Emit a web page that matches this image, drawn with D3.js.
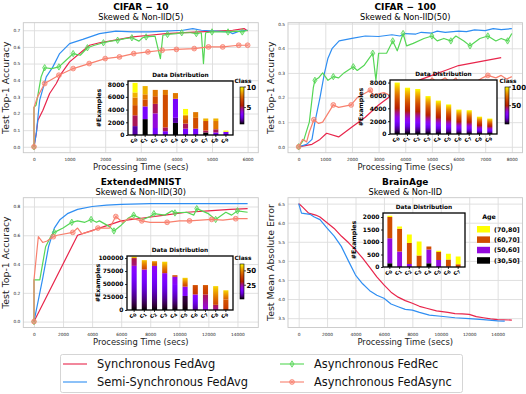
<!DOCTYPE html>
<html>
<head>
<meta charset="utf-8">
<script src="https://cdn.jsdelivr.net/npm/d3@7"></script>
<style>
  body { margin: 0; background: #fff; }
  svg { display: block; font-family: "DejaVu Sans", sans-serif; }
</style>
</head>
<body>
<svg id="fig" width="526" height="394"></svg>
<script>
// ---------- data ----------
const seriesNames = ["Synchronous FedAvg", "Semi-Synchronous FedAvg", "Asynchronous FedRec", "Asynchronous FedAsync"];

// CIFAR-10, accuracy vs time; third value = 1 where a marker sits
const c10Sync = [[0,0],[65,0.08],[110,0.16],[250,0.22],[440,0.32],[626,0.38],[766,0.44],[1000,0.51],[1280,0.56],[1560,0.61],[1840,0.625],[2120,0.635],[2775,0.66],[3240,0.67],[3700,0.68],[4650,0.69],[5580,0.70],[5900,0.71],[6000,0.695]];
const c10Semi = [[0,0],[65,0.08],[160,0.28],[345,0.42],[530,0.48],[720,0.56],[1000,0.62],[1370,0.645],[1840,0.68],[2300,0.695],[2775,0.69],[3240,0.69],[3700,0.695],[4180,0.70],[4460,0.71],[4700,0.70],[5110,0.695],[5490,0.69],[5580,0.68],[5770,0.695],[6000,0.70]];
const c10Rec = [[0,0,1],[0,0.237],[60,0.25],[200,0.42],[300,0.475,1],[500,0.47],[700,0.48,1],[900,0.52],[1100,0.56,1],[1300,0.55],[1500,0.595,1],[1700,0.61],[1950,0.625,1],[2150,0.635],[2350,0.64,1],[2550,0.65],[2750,0.655,1],[2950,0.635],[3050,0.655],[3150,0.66,1],[3400,0.665],[3550,0.53],[3620,0.67],[3750,0.675,1],[4000,0.68],[4150,0.685,1],[4400,0.685],[4560,0.68,1],[4700,0.685],[4760,0.50],[4820,0.685],[5000,0.69,1],[5250,0.69],[5450,0.69,1],[5700,0.695],[5850,0.69,1],[6000,0.70]];
const c10Async = [[0,0,1],[0,0.237],[100,0.30],[300,0.38,1],[700,0.43,1],[1100,0.47,1],[1550,0.50,1],[2000,0.53,1],[2400,0.54,1],[2800,0.56,1],[3200,0.57,1],[3600,0.58,1],[4000,0.585,1],[4500,0.59,1],[4900,0.60,1],[5300,0.60,1],[5750,0.61,1],[6000,0.61,1]];

// CIFAR-100
const c100Sync = [[0,0],[500,0.01],[800,0.03],[1050,0.055],[1500,0.04],[2000,0.08],[2500,0.12],[3000,0.17],[3500,0.21],[4000,0.24],[4500,0.27],[5000,0.29],[5500,0.31],[6000,0.33],[6500,0.34],[7000,0.35],[7600,0.362]];
const c100Semi = [[0,0],[300,0.01],[500,0.03],[610,0.1],[800,0.2],[970,0.3],[1100,0.36],[1260,0.4],[1520,0.43],[2000,0.44],[2500,0.45],[3000,0.448],[3500,0.455],[3800,0.45],[4000,0.46],[4400,0.458],[4600,0.465],[5000,0.462],[5200,0.47],[5500,0.465],[6000,0.47],[6300,0.468],[6600,0.475],[7000,0.472],[7300,0.48],[7600,0.476],[8000,0.48]];
const c100Rec = [[0,0,1],[200,0.03],[400,0.1],[550,0.24],[610,0.27,1],[750,0.28],[900,0.30],[1100,0.27],[1300,0.285,1],[1500,0.28],[1700,0.30],[2050,0.325,1],[2200,0.31],[2450,0.33],[2650,0.36],[2780,0.38,1],[2900,0.27],[3000,0.38],[3300,0.38],[3530,0.43,1],[3700,0.39],[3920,0.46,1],[4050,0.41],[4300,0.42],[4700,0.44],[5000,0.45,1],[5200,0.43],[5450,0.44],[5710,0.43,1],[5900,0.45],[6200,0.43],[6430,0.41,1],[6800,0.44],[7100,0.45,1],[7400,0.43],[7600,0.44],[7840,0.43,1],[8000,0.46]];
const c100Async = [[0,0,1],[150,0.03],[300,0.02],[400,0.06],[570,0.11,1],[750,0.095],[900,0.10],[1300,0.17,1],[1500,0.16],[1970,0.17,1],[2200,0.20],[2690,0.23,1],[2800,0.21],[3200,0.22],[3400,0.21],[3800,0.24],[4000,0.22],[4300,0.25],[4600,0.27],[4800,0.25],[5000,0.28],[5200,0.26],[5500,0.28],[5700,0.26],[5900,0.28],[6050,0.25,1],[6300,0.27],[6600,0.26],[6900,0.28],[7100,0.29,1],[7400,0.28],[7600,0.29],[7800,0.275],[8000,0.285]];

// ExtendedMNIST
const emSync = [[0,0],[3000,0.6],[4500,0.65],[6000,0.70],[7500,0.72],[9000,0.74],[10500,0.76],[12000,0.77],[13500,0.78],[14700,0.785]];
const emSemi = [[0,0],[300,0.15],[600,0.3],[1000,0.52],[1400,0.65],[1800,0.71],[2300,0.75],[3000,0.78],[4000,0.80],[5000,0.81],[6000,0.815],[8000,0.82],[14700,0.82]];
const emRec = [[0,0,1],[0,0.29],[100,0.29],[400,0.29],[800,0.52],[1200,0.6],[1400,0.62,1],[2000,0.65],[2600,0.69,1],[3000,0.70],[3500,0.69],[3930,0.71,1],[4300,0.69],[4500,0.70],[5200,0.66],[5500,0.63,1],[6000,0.67],[6500,0.72],[6860,0.74,1],[7500,0.71],[8000,0.73],[8250,0.75,1],[9000,0.74],[9500,0.77],[9700,0.755,1],[10500,0.76],[11000,0.74],[11200,0.785,1],[12000,0.75],[12500,0.71,1],[13200,0.76],[13600,0.74],[14000,0.77,1],[14700,0.76]];
const emAsync = [[0,0,1],[0,0.29],[300,0.59],[600,0.55],[900,0.56],[1330,0.59,1],[1600,0.60],[2670,0.62,1],[3000,0.65],[3300,0.61],[4000,0.63],[4400,0.65,1],[5200,0.65],[5630,0.73,1],[6100,0.69],[6600,0.72],[7420,0.70,1],[8000,0.69],[9160,0.69,1],[10000,0.70],[10700,0.70,1],[12230,0.71,1],[13000,0.705],[13880,0.715,1],[14700,0.715]];

// BrainAge, mean absolute error
const baSync = [[0,6.5],[100,6.47],[300,6.4],[700,6.25],[1200,6.2],[1500,6.15],[2000,6.0],[2500,5.85],[3000,5.65],[3500,5.48],[4000,5.29],[4500,5.07],[5000,4.83],[5500,4.58],[6000,4.37],[6500,4.18],[7000,4.05],[7500,3.96],[8000,3.89],[8500,3.81],[9000,3.76],[9700,3.69],[10500,3.65],[11000,3.62],[11500,3.61],[12000,3.6],[12500,3.54],[13000,3.51],[13500,3.48],[14000,3.46],[15000,3.45]];
const baSemi = [[0,6.5],[200,6.25],[800,6.22],[1100,6.15],[1500,6.08],[2000,5.86],[2500,5.65],[3000,5.38],[3500,5.0],[4000,4.63],[4500,4.4],[5000,4.22],[5500,4.1],[6000,4.02],[6500,3.87],[7000,3.8],[7500,3.73],[8000,3.71],[8500,3.65],[9200,3.58],[10000,3.55],[11000,3.51],[12000,3.49],[13000,3.46],[14000,3.43],[14500,3.42]];

// axis ticks
const c10XTicks = [0,1000,2000,3000,4000,5000,6000];
const c10YTicks = [0,0.1,0.2,0.3,0.4,0.5,0.6,0.7];
const c100XTicks = [0,1000,2000,3000,4000,5000,6000,7000,8000];
const c100YTicks = [0,0.1,0.2,0.3,0.4,0.5];
const emXTicks = [0,2000,4000,6000,8000,10000,12000,14000];
const emYTicks = [0,0.2,0.4,0.6,0.8];
const baXTicks = [0,2000,4000,6000,8000,10000,12000,14000];
const baYTicks = [3.5,4.0,4.5,5.0,5.5,6.0,6.5];

// inset: samples per client, stacked by class
// CIFAR-10: [class index 0..9, count]
const c10Dist = [
  [[1,1400],[4,1700],[6,1600],[7,1200],[8,800],[9,1500]],
  [[0,2500],[2,2000],[6,1100],[7,800],[8,1300]],
  [[2,1100],[3,2300],[4,1500],[6,1200],[7,1000]],
  [[2,600],[4,600],[6,5100],[7,800]],
  [[0,1900],[1,800],[2,3000],[7,900]],
  [[2,1000],[4,800],[6,700],[7,500],[8,200],[9,900]],
  [[2,1000],[6,1700],[7,900]],
  [[0,400],[4,300],[6,1500],[8,400]],
  [[2,400],[4,500],[7,1300],[8,400]],
  [[2,500],[9,200]]
];
// CIFAR-100: totals per client (classes spread over the whole range)
const c100Totals = [8000, 7200, 7000, 5900, 5200, 4600, 3800, 3700, 2700, 2400];
// ExtendedMNIST: [class range start, class range end (0..1 of 62), count]
const emDist = [
  [[0,0.3,85000],[0.42,0.46,15000],[0.85,1,3000]],
  [[0,0.3,78000],[0.65,0.92,18000]],
  [[0,0.32,85000],[0.65,0.85,9000]],
  [[0,0.3,71000],[0.65,0.95,22000]],
  [[0,0.25,50000],[0.28,0.33,14000],[0.6,0.7,3000]],
  [[0,0.05,27000],[0.25,0.32,18000],[0.62,0.95,17000]],
  [[0.08,0.3,30000],[0.58,0.68,18000]],
  [[0.33,0.45,30000],[0.6,0.7,18000]],
  [[0.4,0.45,10000],[0.65,0.95,36000]],
  [[0.6,0.7,20000],[0.72,0.95,18000]]
];
// BrainAge: counts per age group, order = ageGroups
const ageGroups = ["(30,50]", "(50,60]", "(60,70]", "(70,80]"];
const baDist = [
  [150,1000,850,50],
  [0,620,910,90],
  [0,120,840,340],
  [0,0,460,560],
  [150,550,120,0],
  [0,280,320,50],
  [0,20,280,230],
  [0,0,110,310]
];

// ---------- drawing ----------
const svg = d3.select("#fig");
const defs = svg.append("defs");
const colors = ["#e8254b", "#2f8ef2", "#55d655", "#f8806e"];
const markers = [null, null, "diamond", "circle"];

// matplotlib "gnuplot" colormap
function gnuplot(t) {
  const r = Math.sqrt(t), g = t * t * t, b = Math.max(0, Math.sin(2 * Math.PI * t));
  return d3.rgb(r * 255, g * 255, b * 255).formatHex();
}
let gid = 0;
function gradient(c0, c1) {
  const id = "grad" + (gid++);
  const lg = defs.append("linearGradient").attr("id", id)
    .attr("x1", 0).attr("y1", 1).attr("x2", 0).attr("y2", 0);
  for (let i = 0; i <= 12; i++) {
    lg.append("stop").attr("offset", i / 12).attr("stop-color", gnuplot(c0 + (c1 - c0) * i / 12));
  }
  return `url(#${id})`;
}

function drawMarker(g, cx, cy, color, kind) {
  if (kind === "diamond") {
    g.append("path")
      .attr("d", `M${cx},${cy - 3.2}L${cx + 2},${cy}L${cx},${cy + 3.2}L${cx - 2},${cy}Z`)
      .attr("fill", color).attr("fill-opacity", 0.35)
      .attr("stroke", color).attr("stroke-width", 0.8);
  } else {
    g.append("circle").attr("cx", cx).attr("cy", cy).attr("r", 2.4)
      .attr("fill", color).attr("fill-opacity", 0.4)
      .attr("stroke", color).attr("stroke-width", 0.8);
    g.append("path").attr("d", `M${cx - 1.5},${cy - 1.5}L${cx + 1.5},${cy + 1.5}M${cx - 1.5},${cy + 1.5}L${cx + 1.5},${cy - 1.5}`)
      .attr("stroke", color).attr("stroke-width", 0.6);
  }
}

function drawPanel(p) {
  const b = p.box;
  const x = d3.scaleLinear().domain(p.xDomain).range([b.x0, b.x1]);
  const y = d3.scaleLinear().domain(p.yDomain).range([b.y1, b.y0]);
  const g = svg.append("g");

  // grid
  g.append("g").attr("transform", `translate(0,${b.y1})`)
    .call(d3.axisBottom(x).tickValues(p.xTicks).tickSize(-(b.y1 - b.y0)).tickFormat(""))
    .call(a => a.select(".domain").remove())
    .call(a => a.selectAll("line").attr("stroke", "#dddddd").attr("stroke-width", 0.9));
  g.append("g").attr("transform", `translate(${b.x0},0)`)
    .call(d3.axisLeft(y).tickValues(p.yTicks).tickSize(-(b.x1 - b.x0)).tickFormat(""))
    .call(a => a.select(".domain").remove())
    .call(a => a.selectAll("line").attr("stroke", "#dddddd").attr("stroke-width", 0.9));

  // tick labels
  g.append("g").attr("transform", `translate(0,${b.y1})`)
    .call(d3.axisBottom(x).tickValues(p.xTicks).tickSize(0).tickPadding(5).tickFormat(d3.format("d")))
    .call(a => a.select(".domain").remove())
    .call(a => a.selectAll("text").attr("font-size", 4.3).attr("font-family", "DejaVu Sans").attr("fill", "#222"));
  g.append("g").attr("transform", `translate(${b.x0},0)`)
    .call(d3.axisLeft(y).tickValues(p.yTicks).tickSize(0).tickPadding(3).tickFormat(d3.format(".1f")))
    .call(a => a.select(".domain").remove())
    .call(a => a.selectAll("text").attr("font-size", 4.3).attr("font-family", "DejaVu Sans").attr("fill", "#222"));

  // frame
  g.append("rect").attr("x", b.x0).attr("y", b.y0).attr("width", b.x1 - b.x0).attr("height", b.y1 - b.y0)
    .attr("fill", "none").attr("stroke", "#c8c8c8").attr("stroke-width", 0.9);

  // curves
  const line = d3.line().x(d => x(d[0])).y(d => y(d[1]));
  p.series.forEach((data, i) => {
    g.append("path").datum(data).attr("fill", "none")
      .attr("stroke", colors[i]).attr("stroke-width", 1.2).attr("stroke-linejoin", "round")
      .attr("d", line);
    if (markers[i]) {
      data.filter(d => d[2]).forEach(d => drawMarker(g, x(d[0]), y(d[1]), colors[i], markers[i]));
    }
  });

  // titles and labels
  const cx = (b.x0 + b.x1) / 2;
  g.append("text").attr("x", cx).attr("y", b.y0 - 13.2).attr("text-anchor", "middle")
    .attr("font-size", 9).attr("font-weight", "bold").text(p.title);
  g.append("text").attr("x", cx).attr("y", b.y0 - 3.2).attr("text-anchor", "middle")
    .attr("font-size", 8.2).text(p.sub);
  g.append("text").attr("x", cx).attr("y", b.y1 + 17).attr("text-anchor", "middle")
    .attr("font-size", 8.4).attr("fill", "#222").text("Processing Time (secs)");
  g.append("text").attr("transform", `translate(${b.x0 - 14},${(b.y0 + b.y1) / 2}) rotate(-90)`)
    .attr("text-anchor", "middle").attr("font-size", 9.4).attr("fill", "#222").text(p.ylabel);
}

function drawInset(c) {
  const b = c.box;
  const g = svg.append("g").attr("font-weight", "bold");
  g.append("rect").attr("x", b.x0).attr("y", b.y0).attr("width", b.x1 - b.x0).attr("height", b.y1 - b.y0)
    .attr("fill", "#fff");
  const x = d3.scaleBand().domain(d3.range(c.bars.length)).range([b.x0, b.x1])
    .paddingInner(0.5).paddingOuter(0.45);
  const y = d3.scaleLinear().domain(c.yDomain).range([b.y1, b.y0]);

  c.bars.forEach((segs, i) => {
    let acc = 0;
    segs.forEach(([c0, c1, n]) => {
      if (n <= 0) return;
      g.append("rect").attr("x", x(i)).attr("width", x.bandwidth())
        .attr("y", y(acc + n)).attr("height", y(acc) - y(acc + n))
        .attr("fill", c0 === c1 ? gnuplot(c0) : gradient(c0, c1));
      acc += n;
    });
  });

  // y axis
  g.append("g").attr("transform", `translate(${b.x0},0)`)
    .call(d3.axisLeft(y).tickValues(c.yTicks).tickSize(2).tickPadding(1.5).tickFormat(d3.format("d")))
    .call(a => a.select(".domain").remove())
    .call(a => a.selectAll("line").attr("stroke", "#000").attr("stroke-width", 0.8))
    .call(a => a.selectAll("text").attr("font-size", 6).attr("font-family", "DejaVu Sans").attr("font-weight", "bold").attr("fill", "#000"));
  // x tick labels, rotated
  c.bars.forEach((_, i) => {
    const tx = x(i) + x.bandwidth() / 2;
    g.append("line").attr("x1", tx).attr("x2", tx).attr("y1", b.y1).attr("y2", b.y1 + 2)
      .attr("stroke", "#000").attr("stroke-width", 0.8);
    const t = g.append("text").attr("transform", `translate(${tx + 2},${b.y1 + 4}) rotate(-45)`)
      .attr("text-anchor", "end").attr("font-size", 6.3).text("c");
    t.append("tspan").attr("font-size", 4.5).attr("dy", 1.3).text(i);
  });

  g.append("rect").attr("x", b.x0).attr("y", b.y0).attr("width", b.x1 - b.x0).attr("height", b.y1 - b.y0)
    .attr("fill", "none").attr("stroke", "#000").attr("stroke-width", 1.3);
  g.append("text").attr("x", (b.x0 + b.x1) / 2).attr("y", b.y0 - 4.5).attr("text-anchor", "middle")
    .attr("font-size", 5.8).text("Data Distribution");
  g.append("text").attr("transform", `translate(${b.x0 - 27.5},${(b.y0 + b.y1) / 2}) rotate(-90)`)
    .attr("text-anchor", "middle").attr("font-size", 6.2).text("#Examples");

  if (c.cbar) {
    const cb = c.cbar;
    const cy = d3.scaleLinear().domain(cb.domain).range([cb.y1, cb.y0]);
    g.append("rect").attr("x", cb.x).attr("y", cb.y0).attr("width", 4).attr("height", cb.y1 - cb.y0)
      .attr("fill", gradient(0, 1)).attr("stroke", "#000").attr("stroke-width", 0.6);
    cb.ticks.forEach(v => {
      g.append("line").attr("x1", cb.x + 4).attr("x2", cb.x + 6).attr("y1", cy(v)).attr("y2", cy(v))
        .attr("stroke", "#000").attr("stroke-width", 0.7);
      g.append("text").attr("x", cb.x + 6.5).attr("y", cy(v) + 2.5).attr("font-size", 7).text(v);
    });
    g.append("text").attr("x", cb.x + 3).attr("y", cb.y0 - 4).attr("text-anchor", "middle")
      .attr("font-size", 5.8).text("Class");
  }
  if (c.legend) {
    const L = c.legend;
    g.append("text").attr("x", L.x + 12).attr("y", L.y).attr("text-anchor", "middle")
      .attr("font-size", 6.3).text("Age");
    ageGroups.slice().reverse().forEach((name, k) => {
      const gi = ageGroups.length - 1 - k;
      const ry = L.y + 7 + k * 10.4;
      g.append("rect").attr("x", L.x).attr("y", ry).attr("width", 13).attr("height", 6.5)
        .attr("fill", gnuplot(gi / 3));
      g.append("text").attr("x", L.x + 17).attr("y", ry + 5.6).attr("font-size", 6.3).text(name);
    });
  }
}

const panels = [
  { title: "CIFAR − 10", sub: "Skewed & Non-IID(5)", ylabel: "Test Top-1 Accuracy",
    box: { x0: 23.3, x1: 258.3, y0: 22.7, y1: 152.7 }, xDomain: [-300, 6300], yDomain: [-0.0355, 0.7455],
    xTicks: c10XTicks, yTicks: c10YTicks, series: [c10Sync, c10Semi, c10Rec, c10Async] },
  { title: "CIFAR − 100", sub: "Skewed & Non-IID(50)", ylabel: "Test Top-1 Accuracy",
    box: { x0: 288, x1: 522.5, y0: 22.7, y1: 152.7 }, xDomain: [-400, 8400], yDomain: [-0.024, 0.504],
    xTicks: c100XTicks, yTicks: c100YTicks, series: [c100Sync, c100Semi, c100Rec, c100Async] },
  { title: "ExtendedMNIST", sub: "Skewed & Non-IID(30)", ylabel: "Test Top-1 Accuracy",
    box: { x0: 23.3, x1: 258.3, y0: 197.7, y1: 327.5 }, xDomain: [-735, 15435], yDomain: [-0.041, 0.861],
    xTicks: emXTicks, yTicks: emYTicks, series: [emSync, emSemi, emRec, emAsync] },
  { title: "BrainAge", sub: "Skewed & Non-IID", ylabel: "Test Mean Absolute Error",
    box: { x0: 288, x1: 522.5, y0: 197.7, y1: 327.5 }, xDomain: [-750, 15750], yDomain: [3.255, 6.655],
    xTicks: baXTicks, yTicks: baYTicks, series: [baSync, baSemi] }
];
panels.forEach(drawPanel);

const countTicks = [0, 2000, 4000, 6000, 8000];
drawInset({ box: { x0: 128, x1: 233, y0: 81, y1: 135 }, yDomain: [0, 8500], yTicks: countTicks,
  bars: c10Dist.map(s => s.map(([k, n]) => [k / 9, k / 9, n])),
  cbar: { x: 240, y0: 87, y1: 124, domain: [1, 10], ticks: [5, 10] } });
drawInset({ box: { x0: 390, x1: 497, y0: 80, y1: 134 }, yDomain: [0, 8400], yTicks: countTicks,
  bars: c100Totals.map(t => [[0, 1, t]]),
  cbar: { x: 505, y0: 87, y1: 124, domain: [1, 100], ticks: [50, 100] } });
drawInset({ box: { x0: 127, x1: 233, y0: 256, y1: 310 }, yDomain: [0, 104000], yTicks: [0, 25000, 50000, 75000, 100000],
  bars: emDist,
  cbar: { x: 240, y0: 264, y1: 299, domain: [1, 62], ticks: [25, 50] } });
drawInset({ box: { x0: 383, x1: 465, y0: 213, y1: 267 }, yDomain: [0, 2160], yTicks: [0, 500, 1000, 1500, 2000],
  bars: baDist.map(row => row.map((n, k) => [k / 3, k / 3, n])),
  legend: { x: 477, y: 219 } });

// ---------- legend ----------
const lg = svg.append("g");
lg.append("rect").attr("x", 60.5).attr("y", 354.5).attr("width", 402).attr("height", 38).attr("rx", 2)
  .attr("fill", "#fff").attr("stroke", "#d0d0d0").attr("stroke-width", 0.9);
seriesNames.forEach((name, i) => {
  const col = Math.floor(i / 2), row = i % 2;
  const lx = col === 0 ? 63 : 280, ly = 364 + row * 18;
  lg.append("line").attr("x1", lx).attr("x2", lx + 24).attr("y1", ly).attr("y2", ly)
    .attr("stroke", colors[i]).attr("stroke-width", 1.3).attr("stroke-opacity", 0.85);
  if (markers[i]) drawMarker(lg, lx + 12, ly, colors[i], markers[i]);
  lg.append("text").attr("x", lx + 34).attr("y", ly + 4.2).attr("font-size", 11.4).attr("fill", "#111").text(name);
});
</script>
</body>
</html>
